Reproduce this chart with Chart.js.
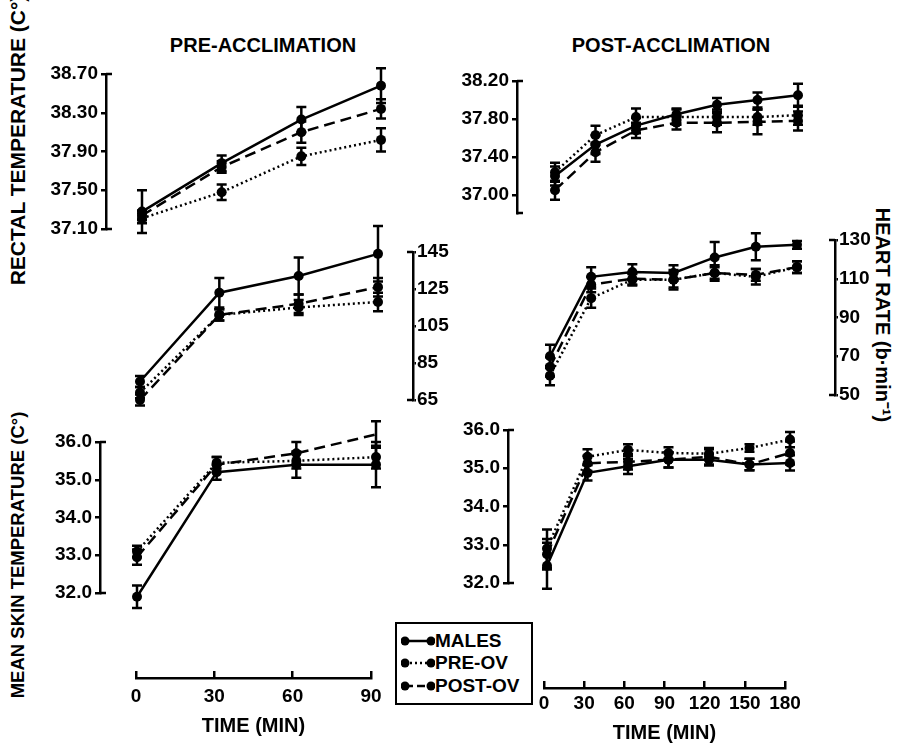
<!DOCTYPE html>
<html lang="en">
<head>
<meta charset="UTF-8" />
<title>Thermoregulatory responses, pre vs post acclimation</title>
<script src="https://cdn.jsdelivr.net/npm/chart.js"></script>
<style>
  body { margin: 0; background: #fff; }
  #wrap { position: relative; width: 912px; height: 745px; background: #fff; overflow: hidden;
          font-family: "Liberation Sans", Arial, sans-serif; font-weight: bold; color: #000; }
  #wrap canvas { position: absolute; }
  .lbl { position: absolute; white-space: nowrap; transform: translate(-50%, -50%); font-size: 20px; }
  .up { transform: translate(-50%, -50%) rotate(-90deg); }
  .down { transform: translate(-50%, -50%) rotate(90deg); }
  #legend { position: absolute; left: 395px; top: 622px; width: 134px; height: 79px; border: 2px solid #000; }
  #legend .row { position: absolute; left: 0; height: 20px; width: 134px; }
  #legend svg { position: absolute; left: 4px; top: 4px; }
  #legend span { position: absolute; left: 38px; top: 0; font-size: 19px; line-height: 20px; }
</style>
</head>
<body>
<div id="wrap">
  <div class="lbl" style="left:263px;top:45px">PRE-ACCLIMATION</div>
  <div class="lbl" style="left:671px;top:45px">POST-ACCLIMATION</div>
  <div class="lbl up" style="left:18px;top:140px;font-size:21px">RECTAL TEMPERATURE (C°)</div>
  <div class="lbl up" style="left:18px;top:555px;font-size:18.5px">MEAN SKIN TEMPERATURE (C°)</div>
  <div class="lbl down" style="left:883px;top:315px">HEART RATE (b·min⁻¹)</div>

  <div id="legend">
    <div class="row" style="top:7px">
      <svg width="34" height="12"><line x1="4" y1="6" x2="30" y2="6" stroke="#000" stroke-width="2.5"/><circle cx="4" cy="6" r="4.5"/><circle cx="30" cy="6" r="4.5"/></svg>
      <span>MALES</span>
    </div>
    <div class="row" style="top:29px">
      <svg width="34" height="12"><line x1="4" y1="6" x2="30" y2="6" stroke="#000" stroke-width="2.5" stroke-dasharray="2 3"/><circle cx="4" cy="6" r="4.5"/><circle cx="30" cy="6" r="4.5"/></svg>
      <span>PRE-OV</span>
    </div>
    <div class="row" style="top:52px">
      <svg width="34" height="12"><line x1="4" y1="6" x2="30" y2="6" stroke="#000" stroke-width="2.5" stroke-dasharray="8 4"/><circle cx="4" cy="6" r="4.5"/><circle cx="30" cy="6" r="4.5"/></svg>
      <span>POST-OV</span>
    </div>
  </div>
</div>

<script>
// ---- data ----
const timePre = [0, 30, 60, 90];
const timePost = [0, 30, 60, 90, 120, 150, 180];
const groups = ['MALES', 'PRE-OV', 'POST-OV'];

// rectal temperature (C)
const rectalPreTicks = [37.10, 37.50, 37.90, 38.30, 38.70];
const rectalPreMales = [37.28, 37.78, 38.23, 38.58];
const rectalPrePreOv = [37.21, 37.48, 37.85, 38.02];
const rectalPrePostOv = [37.24, 37.74, 38.10, 38.34];
const rectalPreMalesErr = [0.22, 0.08, 0.13, 0.18];
const rectalPrePreOvErr = [0.05, 0.08, 0.09, 0.12];
const rectalPrePostOvErr = [0.05, 0.06, 0.11, 0.10];

const rectalPostTicks = [37.00, 37.40, 37.80, 38.20];
const rectalPostMales = [37.20, 37.53, 37.73, 37.85, 37.95, 38.00, 38.05];
const rectalPostPreOv = [37.24, 37.63, 37.82, 37.82, 37.82, 37.82, 37.84];
const rectalPostPostOv = [37.05, 37.45, 37.68, 37.76, 37.76, 37.77, 37.78];
const rectalPostMalesErr = [0.10, 0.10, 0.08, 0.06, 0.07, 0.08, 0.12];
const rectalPostPreOvErr = [0.10, 0.10, 0.09, 0.08, 0.08, 0.08, 0.10];
const rectalPostPostOvErr = [0.10, 0.10, 0.08, 0.07, 0.10, 0.13, 0.10];

// heart rate (b/min)
const hrPreTicks = [65, 85, 105, 125, 145];
const hrPreMales = [75, 123, 132, 144];
const hrPrePreOv = [69, 111, 115, 118];
const hrPrePostOv = [65, 111, 117, 126];
const hrPreMalesErr = [3, 8, 10, 15];
const hrPrePreOvErr = [3, 3, 4, 5];
const hrPrePostOvErr = [3, 3, 5, 5];

const hrPostTicks = [50, 70, 90, 110, 130];
const hrPostMales = [70, 111, 113.5, 113, 121, 126.5, 127.5];
const hrPostPreOv = [60, 100, 109.5, 109.5, 113, 111, 116];
const hrPostPostOv = [64.5, 107, 110, 109.5, 113, 112, 116];
const hrPostMalesErr = [6, 5, 4, 4, 8, 7, 2];
const hrPostPreOvErr = [5, 5, 3, 5, 4, 4, 3];
const hrPostPostOvErr = [5, 4, 3, 4, 3, 3, 3];

// mean skin temperature (C)
const skinTicks = [32.0, 33.0, 34.0, 35.0, 36.0];
const skinPreMales = [31.9, 35.2, 35.4, 35.4];
const skinPrePreOv = [33.1, 35.45, 35.5, 35.6];
const skinPrePostOv = [32.95, 35.4, 35.7, 36.2];
const skinPreMalesErr = [0.3, 0.2, 0.35, 0.6];
const skinPrePreOvErr = [0.15, 0.15, 0.2, 0.3];
const skinPrePostOvErr = [0.2, 0.2, 0.3, 0.35];

const skinPostMales = [32.45, 34.88, 35.05, 35.22, 35.22, 35.10, 35.14];
const skinPostPreOv = [32.9, 35.3, 35.48, 35.4, 35.38, 35.53, 35.75];
const skinPostPostOv = [32.75, 35.13, 35.17, 35.22, 35.3, 35.1, 35.4];
const skinPostMalesErr = [0.6, 0.2, 0.2, 0.2, 0.15, 0.15, 0.2];
const skinPostPreOvErr = [0.5, 0.2, 0.15, 0.15, 0.15, 0.1, 0.2];
const skinPostPostOvErr = [0.4, 0.2, 0.2, 0.2, 0.2, 0.15, 0.3];

// ---- drawing ----
Chart.defaults.font.family = '"Liberation Sans", Arial, sans-serif';
Chart.defaults.font.weight = 'bold';
Chart.defaults.color = '#000';

const INK = '#000';
const AXW = 62, PAD = 40;
const TICK_FONT = { size: 19, weight: 'bold' };
const dashes = [[], [2, 3], [11, 6]];   // males solid, pre-ov dotted, post-ov dashed

// error bars from each dataset's err array, through the y scale
const errorBars = {
  id: 'errorBars',
  afterDatasetsDraw(chart) {
    const ctx = chart.ctx, ys = chart.scales.y;
    ctx.save();
    ctx.strokeStyle = INK;
    ctx.lineWidth = 2.5;
    chart.data.datasets.forEach((ds, i) => {
      if (!ds.err) return;
      chart.getDatasetMeta(i).data.forEach((pt, j) => {
        const v = ds.data[j].y, e = ds.err[j];
        const yt = ys.getPixelForValue(v + e), yb = ys.getPixelForValue(v - e);
        ctx.beginPath();
        ctx.moveTo(pt.x, yt); ctx.lineTo(pt.x, yb);
        ctx.moveTo(pt.x - 5, yt); ctx.lineTo(pt.x + 5, yt);
        ctx.moveTo(pt.x - 5, yb); ctx.lineTo(pt.x + 5, yb);
        ctx.stroke();
      });
    });
    ctx.restore();
  }
};

// little end brackets on the y axes
const axisCaps = {
  id: 'axisCaps',
  afterDraw(chart) {
    const ys = chart.scales.y;
    if (!ys || !ys.options.display) return;
    const a = chart.chartArea, ctx = chart.ctx;
    const left = ys.options.position === 'left';
    const x = left ? a.left : a.right, d = left ? 6 : -6;
    ctx.save();
    ctx.strokeStyle = INK;
    ctx.lineWidth = 2.5;
    ctx.beginPath();
    ctx.moveTo(x, a.top); ctx.lineTo(x + d, a.top);
    ctx.moveTo(x, a.bottom); ctx.lineTo(x + d, a.bottom);
    ctx.stroke();
    ctx.restore();
  }
};

function place(cv, left, top, w, h) {
  cv.width = w; cv.height = h;
  cv.style.left = left + 'px';
  cv.style.top = top + 'px';
  document.getElementById('wrap').appendChild(cv);
}

function panel(box, times, vals, errs, ticks, digits, side) {
  const cv = document.createElement('canvas');
  const areaL = side === 'left' ? box.axis : box.far;
  const areaR = side === 'left' ? box.far : box.axis;
  const n = times.length - 1;
  const ppm = (box.t1px - box.t0px) / (times[n] - times[0]);
  const xMin = times[0] - (box.t0px - areaL) / ppm;
  const xMax = times[n] + (areaR - box.t1px) / ppm;
  const left = side === 'left' ? areaL - AXW : areaL;
  place(cv, left, box.top - PAD, areaR - areaL + AXW, box.bottom - box.top + 2 * PAD);

  new Chart(cv, {
    type: 'line',
    data: {
      datasets: groups.map((g, i) => ({
        label: g,
        data: times.map((t, k) => ({ x: t, y: vals[i][k] })),
        err: errs[i],
        borderColor: INK,
        backgroundColor: INK,
        borderWidth: 2.5,
        borderDash: dashes[i],
        pointRadius: 5,
        pointBorderWidth: 0,
        pointBackgroundColor: INK,
        tension: 0,
        clip: false
      }))
    },
    options: {
      responsive: false,
      animation: false,
      layout: { autoPadding: false, padding: { top: PAD, bottom: PAD, left: 0, right: 0 } },
      plugins: { legend: { display: false }, tooltip: { enabled: false } },
      scales: {
        x: { type: 'linear', display: false, min: xMin, max: xMax },
        y: {
          type: 'linear',
          position: side,
          min: box.yMin,
          max: box.yMax,
          afterBuildTicks: s => { s.ticks = ticks.map(v => ({ value: v })); },
          afterFit: s => { s.width = AXW; s.paddingTop = 0; s.paddingBottom = 0; },
          ticks: { font: TICK_FONT, color: INK, padding: side === 'left' ? 3 : 1,
                   callback: v => Number(v).toFixed(digits) },
          grid: { drawOnChartArea: false, drawTicks: true, tickLength: side === 'left' ? 5 : 3,
                  color: INK, lineWidth: 2.5 },
          border: { display: true, color: INK, width: 2.5 }
        }
      }
    },
    plugins: [errorBars, axisCaps]
  });
}

function timeAxis(ax, times) {
  const cv = document.createElement('canvas');
  const SIDE = 22, MARK = 7;
  place(cv, ax.x0 - SIDE, ax.line - MARK, ax.x1 - ax.x0 + 2 * SIDE, ax.bottom - ax.line + MARK);
  new Chart(cv, {
    type: 'line',
    data: { datasets: [] },
    options: {
      responsive: false,
      animation: false,
      layout: { autoPadding: false, padding: { top: 0, bottom: 0, left: SIDE, right: SIDE } },
      plugins: { legend: { display: false }, tooltip: { enabled: false } },
      scales: {
        y: { display: false, min: 0, max: 1 },
        x: {
          type: 'linear',
          min: times[0],
          max: times[times.length - 1],
          afterBuildTicks: s => { s.ticks = times.map(v => ({ value: v })); },
          afterFit: s => { s.height = ax.bottom - ax.line; s.paddingLeft = 0; s.paddingRight = 0; },
          ticks: { font: TICK_FONT, color: INK, padding: ax.pad, maxRotation: 0, autoSkip: false },
          grid: { drawOnChartArea: true, drawTicks: false, color: INK, lineWidth: 2.5 },
          border: { display: true, color: INK, width: 2.5 },
          title: { display: true, text: 'TIME (MIN)', color: INK, padding: 0,
                   font: { size: 20, weight: 'bold' } }
        }
      }
    }
  });
}

panel({ axis: 106, far: 400, top: 74, bottom: 229, t0px: 142, t1px: 381, yMin: 37.10, yMax: 38.70 },
  timePre, [rectalPreMales, rectalPrePreOv, rectalPrePostOv],
  [rectalPreMalesErr, rectalPrePreOvErr, rectalPrePostOvErr], rectalPreTicks, 2, 'left');

panel({ axis: 413, far: 118, top: 252, bottom: 400, t0px: 140, t1px: 378, yMin: 65, yMax: 145 },
  timePre, [hrPreMales, hrPrePreOv, hrPrePostOv],
  [hrPreMalesErr, hrPrePreOvErr, hrPrePostOvErr], hrPreTicks, 0, 'right');

panel({ axis: 100, far: 400, top: 442, bottom: 593, t0px: 137, t1px: 376, yMin: 32, yMax: 36 },
  timePre, [skinPreMales, skinPrePreOv, skinPrePostOv],
  [skinPreMalesErr, skinPrePreOvErr, skinPrePostOvErr], skinTicks, 1, 'left');

panel({ axis: 517, far: 815, top: 81, bottom: 213, t0px: 555, t1px: 798, yMin: 36.81, yMax: 38.20 },
  timePost, [rectalPostMales, rectalPostPreOv, rectalPostPostOv],
  [rectalPostMalesErr, rectalPostPreOvErr, rectalPostPostOvErr], rectalPostTicks, 2, 'left');

panel({ axis: 835, far: 528, top: 240, bottom: 395, t0px: 550, t1px: 797, yMin: 50, yMax: 130 },
  timePost, [hrPostMales, hrPostPreOv, hrPostPostOv],
  [hrPostMalesErr, hrPostPreOvErr, hrPostPostOvErr], hrPostTicks, 0, 'right');

panel({ axis: 508, far: 815, top: 430, bottom: 583, t0px: 547, t1px: 790, yMin: 32, yMax: 36 },
  timePost, [skinPostMales, skinPostPreOv, skinPostPostOv],
  [skinPostMalesErr, skinPostPreOvErr, skinPostPostOvErr], skinTicks, 1, 'left');

timeAxis({ line: 678, x0: 136, x1: 371, bottom: 738, pad: 7 }, timePre);
timeAxis({ line: 688, x0: 544, x1: 785, bottom: 745, pad: 4 }, timePost);
</script>
</body>
</html>
